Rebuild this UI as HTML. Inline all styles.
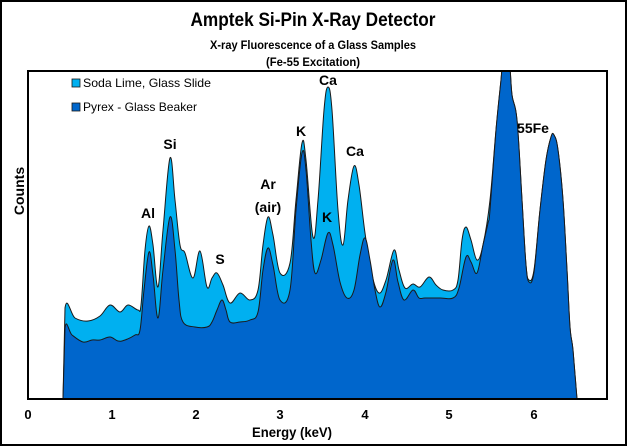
<!DOCTYPE html>
<html><head><meta charset="utf-8"><style>
html,body{margin:0;padding:0;background:#fff}
svg{display:block}
text{font-family:"Liberation Sans",sans-serif;font-weight:bold;fill:#000}
</style></head><body>
<svg width="627" height="446" viewBox="0 0 627 446" xmlns="http://www.w3.org/2000/svg">
<rect x="1" y="1" width="625" height="444" fill="#fff" stroke="#000" stroke-width="2"/>
<text x="313" y="26" font-size="19" text-anchor="middle" textLength="245" lengthAdjust="spacingAndGlyphs">Amptek Si-Pin X-Ray Detector</text>
<text x="313" y="49" font-size="12" text-anchor="middle" textLength="206" lengthAdjust="spacingAndGlyphs">X-ray Fluorescence of a Glass Samples</text>
<text x="313" y="66" font-size="12" text-anchor="middle" textLength="94" lengthAdjust="spacingAndGlyphs">(Fe-55 Excitation)</text>
<defs><clipPath id="c"><rect x="28" y="71" width="579" height="328"/></clipPath></defs>
<g clip-path="url(#c)" stroke="#1a1a1a" stroke-width="1" stroke-linejoin="round">
<path id="pl" fill="#00B0F0" d="M63,399 L65,308 L75,318 L88,321 L100,316 L110,305 L120,312 L128,305 L138,310 L141,305 L145,250 L149,226 L153,245 L158,287 L163,230 L170,158 L175,200 L180,245 L185,253 L193,278 L200,251 L207,287 L212,278 L217,273 L223,285 L230,303 L240,293 L250,300 L258,290 L263,245 L268,217 L273,235 L280,273 L290,263 L296,200 L302,143 L306,160 L313,237 L318,200 L324,110 L328,87 L332,110 L338,210 L343,245 L348,200 L354,166 L359,185 L365,233 L372,275 L379,293 L386,280 L394,250 L399,270 L405,288 L413,284 L420,287 L429,277 L436,285 L443,290 L453,290 L458,280 L462,240 L466,227 L471,240 L477,260 L483,245 L490,200 L496,130 L501,80 L503,60 L509,60 L512,95 L517,120 L522,200 L526,265 L529,280 L534,270 L540,210 L546,160 L551,137 L554,135 L558,150 L563,200 L567,270 L570,327 L573,350 L577,399 Z"/>
<path id="pd" fill="#0066CC" d="M63,399 L65,328 L72,335 L83,342 L92,340 L100,340 L110,337 L118,341 L125,340 L135,335 L140,330 L144,290 L149,252 L153,275 L158,318 L163,270 L170,217 L175,250 L179,300 L183,322 L195,327 L207,327 L212,322 L217,310 L222,300 L226,310 L230,322 L240,322 L250,320 L258,312 L263,270 L268,248 L273,265 L280,300 L290,290 L296,210 L302,153 L306,170 L311,240 L315,273 L321,260 L328,233 L333,245 L340,282 L347,298 L354,290 L360,255 L365,238 L370,260 L375,290 L380,307 L386,292 L393,260 L398,282 L404,300 L413,290 L419,298 L425,298 L440,298 L453,298 L459,288 L466,257 L471,262 L477,273 L483,245 L488,223 L490,210 L496,130 L501,80 L503,60 L509,60 L512,95 L517,120 L522,200 L526,265 L529,282 L534,272 L540,210 L546,160 L551,137 L554,135 L558,150 L563,200 L567,270 L570,327 L573,350 L577,399 Z"/>
</g>
<rect x="28" y="71" width="579" height="328" fill="none" stroke="#000" stroke-width="2"/>
<rect x="72" y="79" width="8" height="8" fill="#00B0F0" stroke="#1a1a1a" stroke-width="0.8"/>
<text x="83" y="87" font-size="12" style="font-weight:normal" textLength="128" lengthAdjust="spacingAndGlyphs">Soda Lime, Glass Slide</text>
<rect x="72" y="103" width="8" height="8" fill="#0066CC" stroke="#1a1a1a" stroke-width="0.8"/>
<text x="83" y="111" font-size="12" style="font-weight:normal" textLength="114" lengthAdjust="spacingAndGlyphs">Pyrex - Glass Beaker</text>
<g font-size="14" text-anchor="middle">
<text x="148" y="218">Al</text>
<text x="170" y="149">Si</text>
<text x="220" y="264">S</text>
<text x="268" y="189">Ar</text>
<text x="268" y="212">(air)</text>
<text x="301" y="136">K</text>
<text x="327" y="222">K</text>
<text x="328" y="85">Ca</text>
<text x="355" y="156">Ca</text>
<text x="533" y="133">55Fe</text>
</g>
<g font-size="13" text-anchor="middle">
<text x="28" y="419">0</text><text x="112" y="419">1</text><text x="196" y="419">2</text><text x="280" y="419">3</text><text x="365" y="419">4</text><text x="449" y="419">5</text><text x="534" y="419">6</text>
</g>
<text x="292" y="437" font-size="14" text-anchor="middle" textLength="80" lengthAdjust="spacingAndGlyphs">Energy (keV)</text>
<text transform="translate(24,191) rotate(-90)" font-size="14" text-anchor="middle">Counts</text>
</svg>
<script>
["pl","pd"].forEach(function(id){
  var el=document.getElementById(id);
  var d=el.getAttribute("d");
  var pts=d.replace(/[MLZ]/g," ").trim().split(/\s+/).map(function(s){var a=s.split(",");return [+a[0],+a[1]];});
  var n=pts.length, out="M"+pts[0][0]+","+pts[0][1]+" L"+pts[1][0]+","+pts[1][1];
  for(var i=1;i<n-2;i++){
    var p0=pts[i-1],p1=pts[i],p2=pts[i+1],p3=pts[i+2],t=0.18;
    var c1=[p1[0]+(p2[0]-p0[0])*t,p1[1]+(p2[1]-p0[1])*t];
    var c2=[p2[0]-(p3[0]-p1[0])*t,p2[1]-(p3[1]-p1[1])*t];
    out+=" C"+c1[0].toFixed(1)+","+c1[1].toFixed(1)+" "+c2[0].toFixed(1)+","+c2[1].toFixed(1)+" "+p2[0]+","+p2[1];
  }
  out+=" L"+pts[n-1][0]+","+pts[n-1][1]+" Z";
  el.setAttribute("d",out);
});
</script>
</body></html>
